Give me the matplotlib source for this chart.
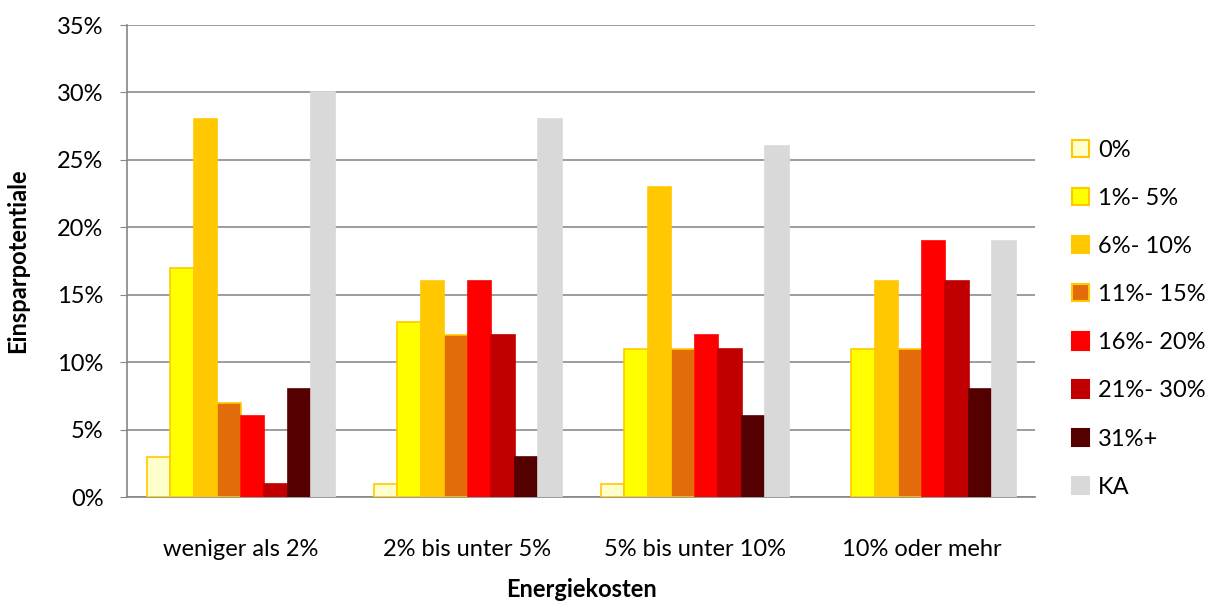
import matplotlib.pyplot as plt
import numpy as np

plt.rcParams['font.family'] = ['Lato', 'DejaVu Sans']

categories = ['weniger als 2%', '2% bis unter 5%', '5% bis unter 10%', '10% oder mehr']
series = ['0%', '1%- 5%', '6%- 10%', '11%- 15%', '16%- 20%', '21%- 30%', '31%+', 'KA']
values = [
    [3, 1, 1, 0],      # 0%
    [17, 13, 11, 11],  # 1%- 5%
    [28, 16, 23, 16],  # 6%- 10%
    [7, 12, 11, 11],   # 11%- 15%
    [6, 16, 12, 19],   # 16%- 20%
    [1, 12, 11, 16],   # 21%- 30%
    [8, 3, 6, 8],      # 31%+
    [30, 28, 26, 19],  # KA
]
fills = ['#FFFFCC', '#FFFF00', '#FFC800', '#E36C0A', '#FF0000', '#C00000', '#540000', '#D9D9D9']
edges = ['#FFC800', '#FFC800', '#FFC800', '#FFC800', '#FF0000', '#C00000', '#540000', '#D9D9D9']

fig = plt.figure(figsize=(12.05, 6.04), dpi=100)
ax = fig.add_axes([0.1054, 0.177, 0.7536, 0.7816])

x = np.arange(len(categories))
w = 1 / 9.66
for i, (name, vals) in enumerate(zip(series, values)):
    offs = (i - 3.5) * w
    ec = [edges[i] if v > 0 else 'none' for v in vals]
    ax.bar(x + offs, vals, width=w, color=fills[i], edgecolor=ec,
           linewidth=1.2, label=name, zorder=3)

ax.set_xlim(-0.5, len(categories) - 0.5)
ax.set_ylim(0, 35)
ax.set_yticks(range(0, 36, 5))
ax.set_yticklabels([f'{v}%' for v in range(0, 36, 5)], fontsize=17)
ax.set_xticks(x)
ax.set_xticklabels(categories, fontsize=17)
ax.tick_params(axis='x', length=0, pad=30)
ax.tick_params(axis='y', length=5, color='#868686', pad=12)
ax.yaxis.grid(True, color='#8C8C8C', linewidth=1.2, zorder=0)
for s in ['top', 'right']:
    ax.spines[s].set_visible(False)
for s in ['left', 'bottom']:
    ax.spines[s].set_color('#868686')
    ax.spines[s].set_linewidth(1.2)

ax.set_xlabel('Energiekosten', fontsize=17, fontweight='bold', labelpad=13)
ax.set_ylabel('Einsparpotentiale', fontsize=17, fontweight='bold', labelpad=20)

leg = ax.legend(loc='center left', bbox_to_anchor=(1.03, 0.378), frameon=False,
                fontsize=17, handlelength=0.75, handleheight=0.75, handletextpad=0.35,
                labelspacing=1.15, borderaxespad=0)
for h in leg.legend_handles:
    h.set_linewidth(1.5)

fig.savefig('out.png', dpi=100)
